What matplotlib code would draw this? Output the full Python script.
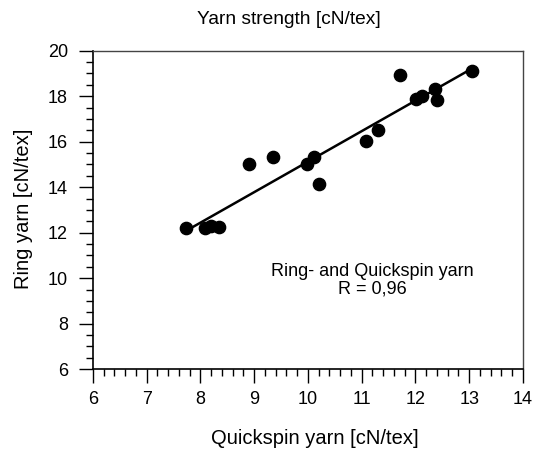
import matplotlib.pyplot as plt
import numpy as np
from matplotlib.ticker import MultipleLocator

plt.rcParams['font.family'] = ['Liberation Sans', 'DejaVu Sans']

quickspin = [7.74, 8.08, 8.20, 8.35, 8.90, 9.35, 9.98, 10.11, 10.20,
             11.08, 11.31, 11.71, 12.01, 12.12, 12.36, 12.41, 13.05]
ring = [12.22, 12.22, 12.28, 12.26, 15.03, 15.32, 15.0, 15.32, 14.13,
        16.02, 16.52, 18.93, 17.88, 18.0, 18.32, 17.83, 19.13]

fig = plt.figure(figsize=(5.43, 4.53), dpi=100)
ax = fig.add_axes([0.171, 0.185, 0.792, 0.703])

ax.scatter(quickspin, ring, s=78, color='black', zorder=3)

# linear regression line over the data range
k, d = np.polyfit(quickspin, ring, 1)
xs = np.array([min(quickspin), max(quickspin)])
ax.plot(xs, k * xs + d, color='black', lw=1.8, zorder=2)

ax.set_xlim(6, 14)
ax.set_ylim(6, 20)
ax.xaxis.set_major_locator(MultipleLocator(1))
ax.xaxis.set_minor_locator(MultipleLocator(0.2))
ax.yaxis.set_major_locator(MultipleLocator(2))
ax.yaxis.set_minor_locator(MultipleLocator(0.5))
ax.tick_params(which='major', direction='out', length=10, width=1, labelsize=13, pad=6)
ax.tick_params(which='minor', direction='out', length=5, width=1)
ax.tick_params(axis='y', pad=8)

for side in ['left', 'bottom']:
    ax.spines[side].set_linewidth(1.2)
for side in ['top', 'right']:
    ax.spines[side].set_color('#444444')
    ax.spines[side].set_linewidth(1)

ax.text(11.2, 9.9, "Ring- and Quickspin yarn\nR = 0,96", ha='center', va='center',
        fontsize=13, linespacing=1.05)

fig.text(0.532, 1 - 20 / 453, "Yarn strength [cN/tex]", ha='center', va='center', fontsize=13.8)
fig.text(315 / 543, 1 - 438 / 453, "Quickspin yarn [cN/tex]", ha='center', va='center', fontsize=14.5)
fig.text(24 / 543, 1 - 209 / 453, "Ring yarn [cN/tex]", ha='center', va='center',
         rotation=90, fontsize=14.5)

fig.savefig('out.png', dpi=100)
